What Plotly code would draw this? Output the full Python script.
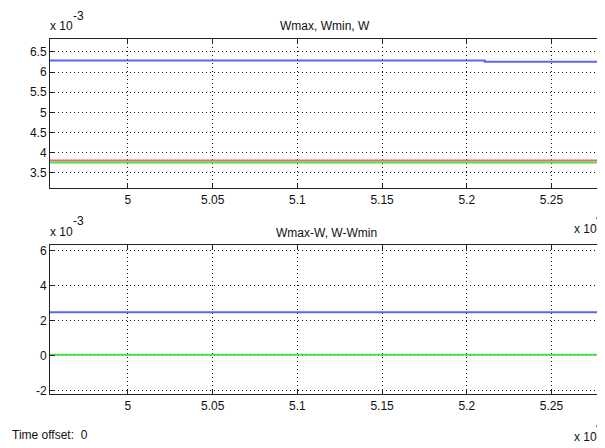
import plotly.graph_objects as go
from plotly.subplots import make_subplots

# ---- data ----
time = [49540, 52106, 52810]                 # seconds
w_max = [6.29e-3, 6.26e-3, 6.26e-3]
w_val = [3.80e-3, 3.80e-3, 3.80e-3]
w_min = [3.75e-3, 3.75e-3, 3.75e-3]
diff_max = [2.48e-3, 2.48e-3, 2.48e-3]        # Wmax - W
diff_min = [0.05e-3, 0.05e-3, 0.05e-3]        # W - Wmin

x_tickvals = [50000, 50500, 51000, 51500, 52000, 52500]
x_ticktext = ["5", "5.05", "5.1", "5.15", "5.2", "5.25"]
top_tickvals = [3.5, 4, 4.5, 5, 5.5, 6, 6.5]
top_ticktext = ["3.5", "4", "4.5", "5", "5.5", "6", "6.5"]
bot_tickvals = [-2, 0, 2, 4, 6]
bot_ticktext = ["-2", "0", "2", "4", "6"]
y_scale = 1e-3

BLUE = "rgb(96,100,240)"
RED = "rgb(240,104,104)"
GREEN = "rgb(72,228,72)"

# page body has an 8px default margin: lay out in window pixels minus offset
OFF = 8
W, H = 605 - OFF, 448 - OFF
L = 50 - OFF
R = 0
PW = W - L - R

def px(x):
    return (x - OFF - L) / PW

def py(y):
    return 1 - (y - OFF) / H

fig = make_subplots(rows=2, cols=1)

def add(row, y, color):
    fig.add_trace(go.Scatter(x=time, y=[v / y_scale for v in y], mode="lines",
                             line=dict(color=color, width=2, shape="hv"),
                             showlegend=False, hoverinfo="skip"), row=row, col=1)

add(1, w_max, BLUE)
add(1, w_val, RED)
add(1, w_min, GREEN)
add(2, diff_max, BLUE)
add(2, diff_min, GREEN)

axis_common = dict(showline=True, linecolor="#222", linewidth=1, mirror="allticks",
                   ticks="inside", ticklen=5, tickcolor="#222",
                   showgrid=True, gridcolor="#111", griddash="1px,3px", gridwidth=1,
                   zeroline=False, tickfont=dict(family="Liberation Sans, Arial", size=12, color="#111"))

fig.update_xaxes(range=[49540, 52810], tickvals=x_tickvals, ticktext=x_ticktext, **axis_common)
fig.update_yaxes(**axis_common)
fig.update_yaxes(range=[3.11, 6.83], tickvals=top_tickvals, ticktext=top_ticktext, row=1, col=1)
fig.update_yaxes(range=[-2.23, 6.34], tickvals=bot_tickvals, ticktext=bot_ticktext, row=2, col=1)

fig.update_layout(
    width=W, height=H,
    margin=dict(l=L, r=R, t=0, b=0),
    paper_bgcolor="white", plot_bgcolor="white",
    font=dict(family="Liberation Sans, Arial", size=12, color="#111"),
    xaxis=dict(domain=[0, 1]),
    xaxis2=dict(domain=[0, 1]),
    yaxis=dict(domain=[py(189), py(38)]),
    yaxis2=dict(domain=[py(397), py(246)]),
)

def ann(text, x, y, xanchor="left", size=12):
    fig.add_annotation(text=text, x=px(x), y=py(y), xref="paper", yref="paper",
                       xanchor=xanchor, yanchor="middle", showarrow=False,
                       borderpad=0, font=dict(size=size, color="#111"))

ann("Wmax, Wmin, W", 325, 25.5, "center")
ann("x 10", 49, 25.5)
ann("-3", 72, 15)
ann("x 10", 599, 230.5, "right")
ann("4", 605, 218, "right")
ann("Wmax-W, W-Wmin", 327, 234, "center")
ann("x 10", 49, 233)
ann("-3", 72, 222)
ann("x 10", 599, 440, "right")
ann("4", 605, 428, "right")
ann("Time offset:  0", 11, 438)

fig.write_html("out.html")
